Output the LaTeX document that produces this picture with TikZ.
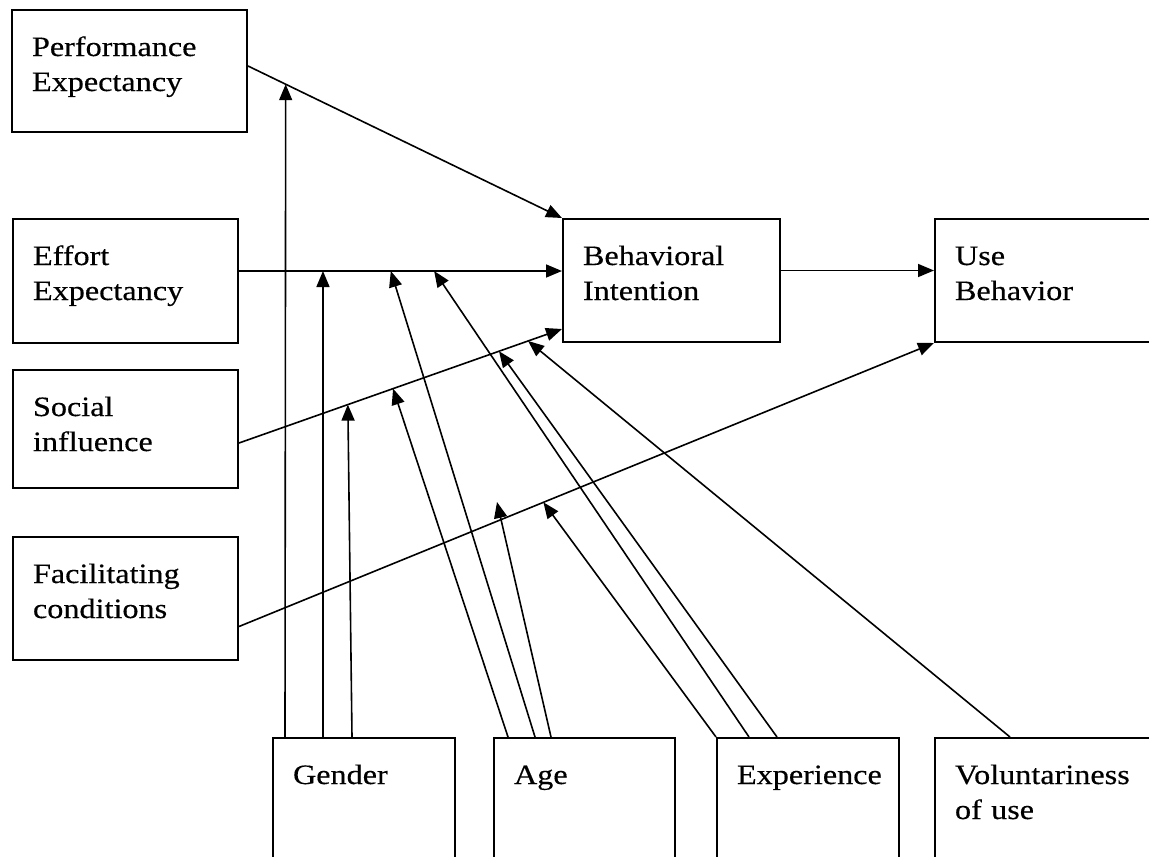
\documentclass[tikz,border=0pt]{standalone}
\usepackage{fontspec}
\usepackage{tikz}
\usetikzlibrary{arrows.meta}
\newfontfamily\diagfont[FakeStretch=1.15,FakeBold=0.4]{Liberation Serif}
\tikzset{>={Triangle[length=16pt,width=13pt]},
	every picture/.style={x=1pt,y=-1pt},
	box/.style={draw, line width=2pt, anchor=north west, align=left,
		inner xsep=20pt, inner ysep=0pt, text height=46pt,
		font=\diagfont\fontsize{28}{35}\selectfont},
	link/.style={->, line width=1.6pt}}

\begin{document}
\begin{tikzpicture}
	\useasboundingbox (0,0) rectangle (1149,857);
	\clip (0,0) rectangle (1149,857);
	% constructs
	\node[box, text width=195pt, text depth=76pt] (pe) at (11,9) {Performance\\Expectancy};
	\node[box, text width=185pt, text depth=78pt] (ee) at (12,218) {Effort\\Expectancy};
	\node[box, text width=185pt, text depth=72pt] (si) at (12,369) {Social\\influence};
	\node[box, text width=185pt, text depth=77pt] (fc) at (12,536) {Facilitating\\conditions};
	\node[box, text width=177pt, text depth=77pt] (bi) at (562,218) {Behavioral\\Intention};
	\node[box, text width=220pt, text depth=77pt] (ub) at (934,218) {Use\\Behavior};
	% moderators
	\node[box, text width=142pt, text depth=154pt] (gen) at (272,737) {Gender};
	\node[box, text width=141pt, text depth=154pt] (age) at (493,737) {Age};
	\node[box, text width=142pt, text depth=154pt] (exp) at (716,737) {Experience};
	\node[box, text width=220pt, text depth=154pt] (vol) at (934,737) {Voluntariness\\of use};
	
	\draw[link] ([yshift=5pt]pe.east) -- coordinate[pos=.12] (pe-gen) (bi.north west);
	\draw[link] ([yshift=10pt]ee.east) -- coordinate[pos=.26] (ee-gen)
		coordinate[pos=.47] (ee-age) coordinate[pos=.604] (ee-exp)
		([yshift=10pt]ee.east -| bi.west);
	\draw[link] ([yshift=-14pt]si.east) -- coordinate[pos=.337] (si-gen)
		coordinate[pos=.477] (si-age) coordinate[pos=.805] (si-exp)
		coordinate[pos=.895] (si-vol) ([yshift=14pt]bi.south west);
	\draw[link] ([yshift=-28pt]fc.east) -- coordinate[pos=.438] (fc-exp) (ub.south west);
	\draw[link] ([yshift=10pt]bi.east) -- ([yshift=10pt]bi.east -| ub.west);
	\coordinate (age-tip) at (497,502);
	
	\draw[link] ([xshift=13pt]gen.north west) -- (pe-gen);
	\draw[link] ([xshift=51pt]gen.north west) -- (ee-gen);
	\draw[link] ([xshift=80pt]gen.north west) -- (si-gen);
	\draw[link] ([xshift=15pt]age.north west) -- (si-age);
	\draw[link] ([xshift=42pt]age.north west) -- (ee-age);
	\draw[link] ([xshift=58pt]age.north west) -- (age-tip);
	\draw[link] (exp.north west) -- (fc-exp);
	\draw[link] ([xshift=33pt]exp.north west) -- (ee-exp);
	\draw[link] ([xshift=61pt]exp.north west) -- (si-exp);
	\draw[link] ([xshift=76pt]vol.north west) -- (si-vol);
\end{tikzpicture}
\end{document}
